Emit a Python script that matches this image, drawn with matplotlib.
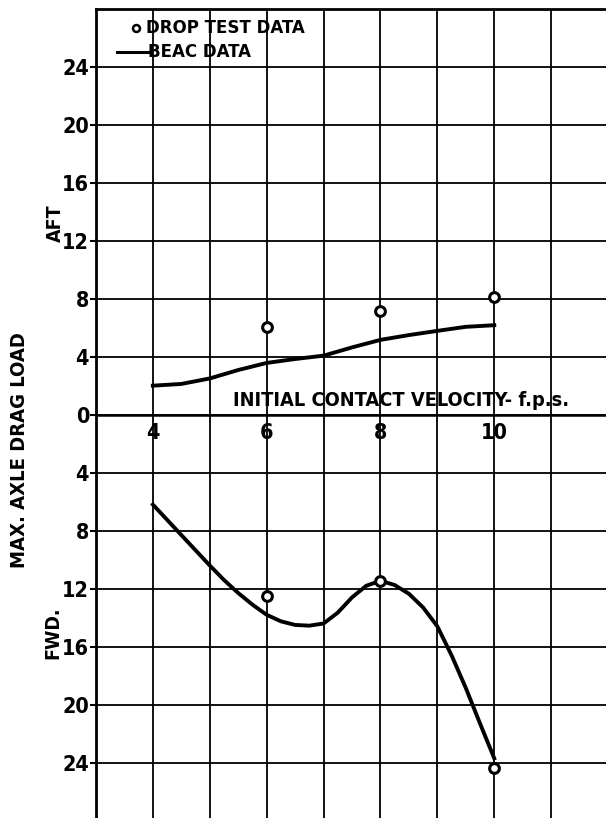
import matplotlib
matplotlib.use("Agg")
import matplotlib.pyplot as plt

# Drop test points (x = initial contact velocity, y = load, AFT > 0, FWD < 0)
drop_x_aft = [6, 8, 10]
drop_y_aft = [6.05, 7.13, 8.14]
drop_x_fwd = [6, 8, 10]
drop_y_fwd = [-12.5, -11.45, -24.4]

# BEAC curves
beac_x_aft = [4.0, 4.5, 5.0, 5.5, 6.0, 6.5, 7.0, 7.5, 8.0, 8.5, 9.0, 9.5, 10.0]
beac_y_aft = [2.0, 2.12, 2.5, 3.08, 3.57, 3.84, 4.07, 4.64, 5.16, 5.49, 5.78, 6.06, 6.17]
beac_x_fwd = [4.0, 4.5, 5.0, 5.25, 5.5, 5.75, 6.0, 6.25, 6.5, 6.75, 7.0, 7.25, 7.5, 7.75,
              8.0, 8.25, 8.5, 8.75, 9.0, 9.25, 9.5, 9.75, 10.0]
beac_y_fwd = [-6.2, -8.3, -10.4, -11.4, -12.3, -13.1, -13.8, -14.25, -14.5, -14.55, -14.4,
              -13.65, -12.6, -11.8, -11.45, -11.75, -12.35, -13.3, -14.6, -16.6, -18.85,
              -21.3, -23.7]

x_ticks = [4, 6, 8, 10]
y_ticks = [-24, -20, -16, -12, -8, -4, 0, 4, 8, 12, 16, 20, 24]

BOLD = dict(fontweight="bold", family=["DejaVu Sans"], fontstretch="condensed")

fig = plt.figure(figsize=(6.06, 8.18), dpi=100)
ax = fig.add_axes([0.1584, -0.0033, 0.845, 0.9927])

ax.set_xlim(3, 12)
ax.set_ylim(-28, 28)

# grid
for gx in range(4, 12):
    ax.axvline(gx, color="black", lw=1.3, zorder=1)
for gy in range(-24, 28, 4):
    ax.axhline(gy, color="black", lw=1.3, zorder=1)
ax.axhline(0, color="black", lw=1.8, zorder=1)

for sp in ax.spines.values():
    sp.set_linewidth(2.0)

# curves
ax.plot(beac_x_aft, beac_y_aft, color="black", lw=2.8, solid_joinstyle="round", zorder=3)
ax.plot(beac_x_fwd, beac_y_fwd, color="black", lw=2.8, solid_joinstyle="round", zorder=3)
ax.plot(drop_x_aft, drop_y_aft, "o", ms=7, mfc="white", mec="black", mew=2.2, zorder=4)
ax.plot(drop_x_fwd, drop_y_fwd, "o", ms=7, mfc="white", mec="black", mew=2.2, zorder=4)

# y ticks shown as absolute values
ax.set_yticks(y_ticks)
ax.set_yticklabels([str(abs(v)) for v in y_ticks], fontsize=15.5, **BOLD)
ax.tick_params(axis="y", length=4, width=1.5, pad=1)
ax.set_xticks([])

# x tick labels sit just below the zero line
for xt in x_ticks:
    ax.text(xt, -1.25, str(xt), ha="center", va="center", fontsize=15.5, **BOLD)

ax.text(5.4, 1.0, "INITIAL CONTACT VELOCITY- f.p.s.", ha="left", va="center",
        fontsize=14.3, **BOLD)

# legend drawn by hand
ax.plot([3.70], [26.67], "o", ms=5, mfc="white", mec="black", mew=1.8, clip_on=False)
ax.text(3.88, 26.67, "DROP TEST DATA", ha="left", va="center", fontsize=13.3, **BOLD)
ax.plot([3.37, 3.91], [25.0, 25.0], color="black", lw=2.2)
ax.text(3.91, 25.0, "BEAC DATA", ha="left", va="center", fontsize=13.3, **BOLD)

# side labels
fig.text(55 / 606, 1 - 223 / 818, "AFT", rotation=90, ha="center", va="center",
         fontsize=14, **BOLD)
fig.text(53 / 606, 1 - 633 / 818, "FWD.", rotation=90, ha="center", va="center",
         fontsize=14, **BOLD)
fig.text(20 / 606, 1 - 450 / 818, "MAX. AXLE DRAG LOAD", rotation=90, ha="center",
         va="center", fontsize=14.5, **BOLD)

fig.savefig("out.png", dpi=100)
